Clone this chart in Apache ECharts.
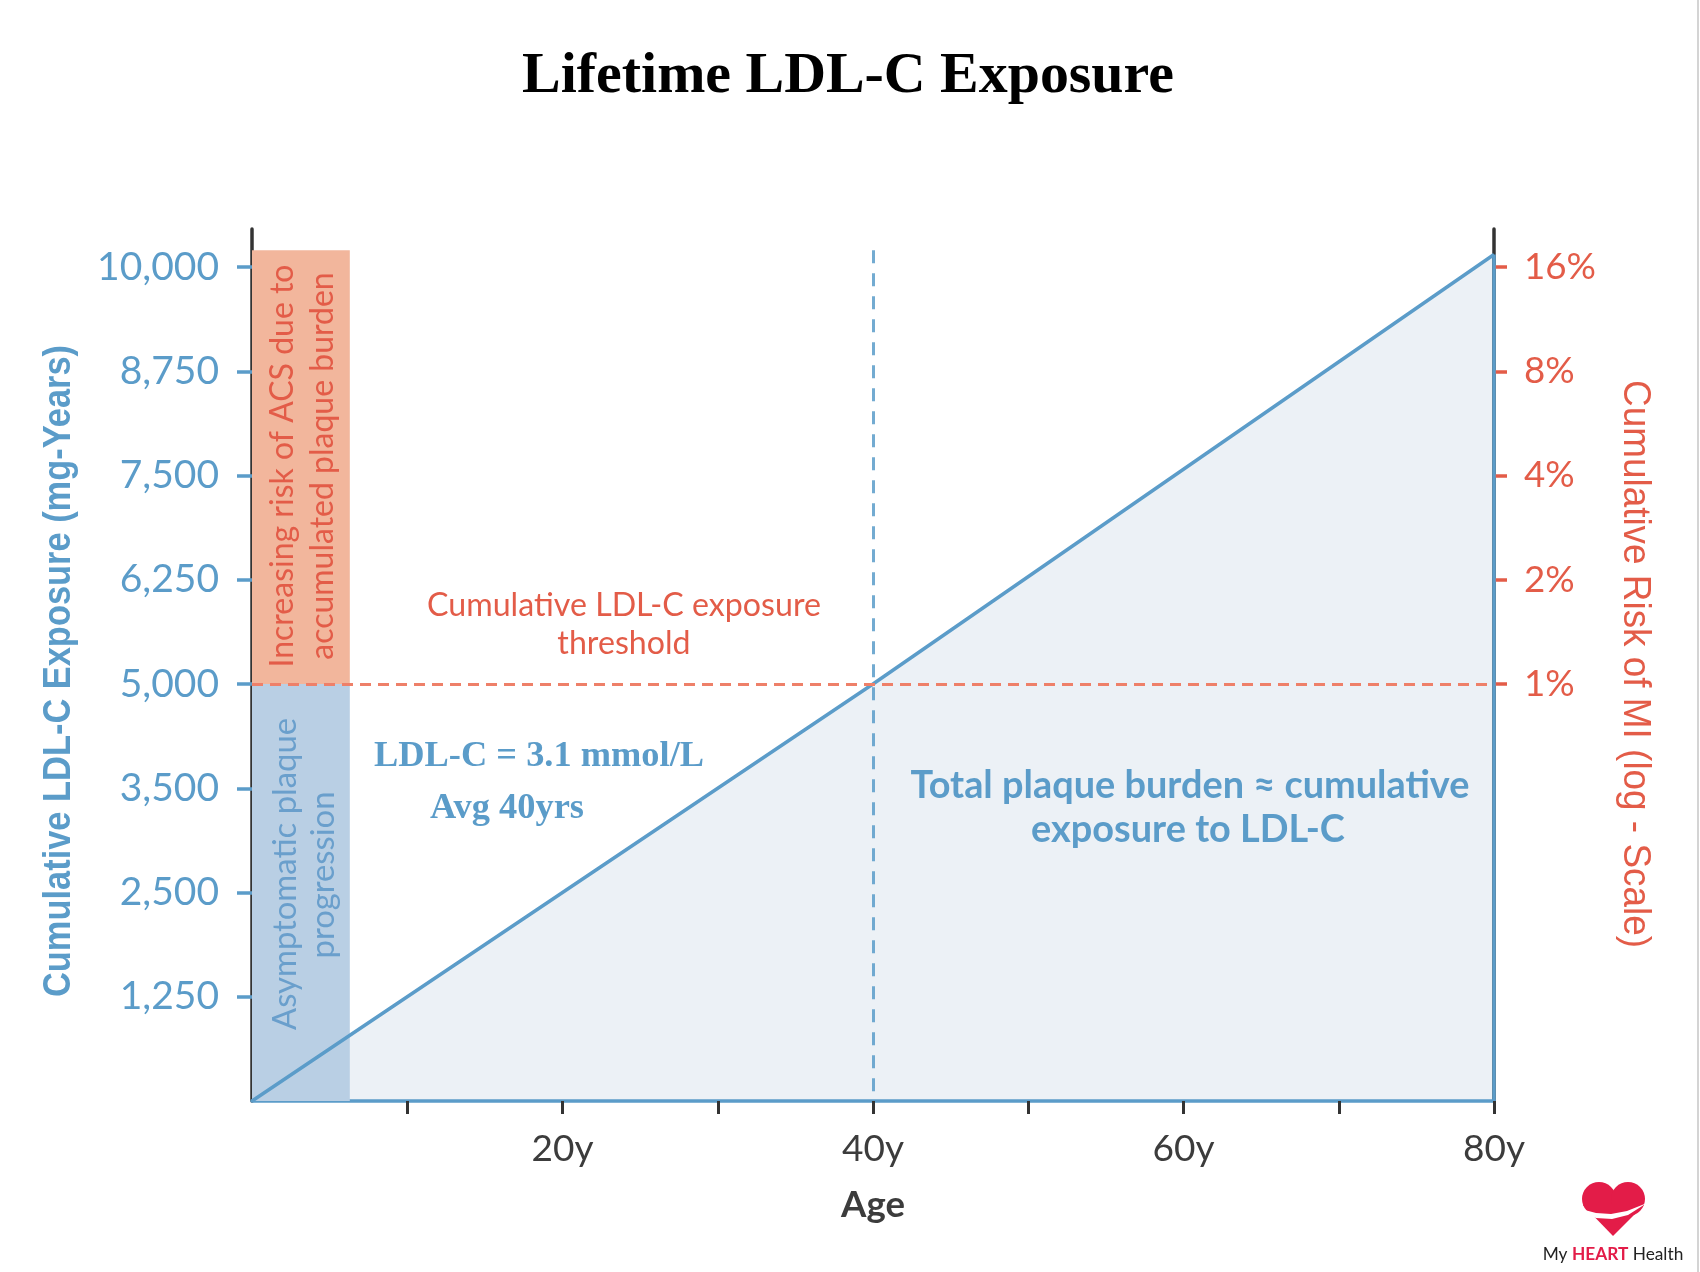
<!DOCTYPE html>
<html>
<head>
<meta charset="utf-8">
<title>Lifetime LDL-C Exposure</title>
<script src="https://cdn.jsdelivr.net/npm/echarts@6/dist/echarts.min.js"></script>
<style>
  html, body { margin: 0; padding: 0; background: #fff; }
  #chart { width: 1700px; height: 1272px; }
</style>
</head>
<body>
<div id="chart"></div>
<script>
// ---- data ----
const ages = [0, 40, 80];
const exposure = [0, 5000, 10150];
const ageTicks = [10, 20, 30, 40, 50, 60, 70, 80];
const ageLabels = [20, 40, 60, 80];
const exposureTicks = [1250, 2500, 3750, 5000, 6250, 7500, 8750, 10000];
const exposureLabels = ['1,250', '2,500', '3,500', '5,000', '6,250', '7,500', '8,750', '10,000'];
const riskPercent = [1, 2, 4, 8, 16];
const threshold = 5000;       // mg-years, = 1% risk
const thresholdAge = 40;
const zoneAge = 6.3;          // width of the shaded band on the left
const zoneTop = 10200;
const axisTop = 10456;
const logStep = 1250;         // one doubling of risk per exposure tick

// ---- styles ----
const blue = '#5b9cc9';
const red = '#e35c48';
const dashRed = '#ee8069';
const pink = '#f2b69c';
const paleBlue = '#b9cfe4';
const fill = '#ecf1f6';
const dark = '#333333';
const heartRed = '#e31c48';
const sans = 'Lato, "Open Sans", sans-serif';
const arial = '"Liberation Sans", Arial, sans-serif';
const serif = '"Liberation Serif", "DejaVu Serif", serif';

// width of a text at a given size
const ctx = document.createElement('canvas').getContext('2d');
function measure(text, family, weight, size) {
  ctx.font = weight + ' ' + size + 'px ' + family;
  return ctx.measureText(text).width;
}
// font size that makes a text come out at a given width
function fit(text, family, weight, width) {
  return Math.round(1000 * width / measure(text, family, weight, 100)) / 10;
}

const pts = ages.map((a, i) => [a, exposure[i]]);
const endAge = ages[ages.length - 1];
const endVal = exposure[exposure.length - 1];

const yLabelSize = fit('10,000', sans, 'normal', 122);
const xLabelSize = fit('20y', sans, 'normal', 62);
const rLabelSize = fit('16%', sans, 'normal', 72);

const chart = echarts.init(document.getElementById('chart'));

// centred text; with a width the glyphs are squeezed along the line to match it
function txt(text, x, y, size, family, weight, color, rotation, width, squeezeFrom) {
  let sx = 1;
  if (width) sx = width / measure(squeezeFrom || text, family, weight, size);
  return {
    type: 'text', x: x, y: y, rotation: rotation || 0, scaleX: sx, silent: true, z: 50,
    style: {
      text: text, fontSize: size, fontFamily: family, fontWeight: weight,
      fill: color, align: 'center', verticalAlign: 'middle'
    }
  };
}

const ldlSize = fit('LDL-C = 3.1 mmol/L', serif, 'bold', 330);
const titleSize = fit('Lifetime LDL-C Exposure', serif, 'bold', 652);
const logoSize = fit('My HEART Health', sans, 'normal', 140);

const thr1 = 'Cumulative LDL-C exposure';
const tot1 = 'Total plaque burden ≈ cumulative';
const inc1 = 'Increasing risk of ACS due to';
const asy1 = 'Asymptomatic plaque';
const up = -Math.PI / 2;

const option = {
  animation: false,
  backgroundColor: '#fff',
  grid: { left: 252, right: 206, top: 229, bottom: 171, containLabel: false },
  xAxis: {
    type: 'value', min: 0, max: endAge,
    axisLine: { show: true, onZero: false, lineStyle: { color: blue, width: 3.5 } },
    axisTick: { show: true, customValues: ageTicks, length: 13, lineStyle: { color: dark, width: 3 } },
    axisLabel: {
      customValues: ageLabels, formatter: v => v + 'y',
      color: '#3c3c3c', fontSize: xLabelSize, fontFamily: sans, margin: 30
    },
    splitLine: { show: false },
    name: 'Age', nameLocation: 'middle', nameGap: 86,
    nameTextStyle: { color: '#3c3c3c', fontFamily: sans, fontWeight: 'bold', fontSize: fit('Age', sans, 'bold', 64) }
  },
  yAxis: [{
    type: 'value', min: 0, max: axisTop, position: 'left',
    axisLine: { show: true, lineStyle: { color: dark, width: 3.5 } },
    axisTick: { show: true, customValues: exposureTicks, length: 15, lineStyle: { color: blue, width: 3.5 } },
    axisLabel: {
      customValues: exposureTicks,
      formatter: v => exposureLabels[exposureTicks.indexOf(v)],
      color: blue, fontSize: yLabelSize, fontFamily: sans, margin: 33
    },
    splitLine: { show: false }
  }, {
    // risk axis in log2 units, one doubling per exposure tick, 1% at the threshold
    type: 'value', position: 'right',
    min: (0 - threshold) / logStep, max: (axisTop - threshold) / logStep,
    axisLine: { show: true, lineStyle: { color: dark, width: 3.5 } },
    axisTick: { show: true, customValues: riskPercent.map(Math.log2), length: 13, lineStyle: { color: red, width: 3.5 } },
    axisLabel: {
      customValues: riskPercent.map(Math.log2),
      formatter: v => Math.round(Math.pow(2, v)) + '%',
      color: red, fontSize: rLabelSize, fontFamily: sans, margin: 30
    },
    splitLine: { show: false }
  }],
  series: [{
    // light fill under the exposure line
    type: 'line', data: pts, symbol: 'none', z: 0, silent: true,
    lineStyle: { width: 0 },
    areaStyle: { color: fill, opacity: 1 }
  }, {
    type: 'line', data: pts, symbol: 'none', z: 3, silent: true,
    lineStyle: { color: blue, width: 3.5 },
    markArea: {
      silent: true,
      data: [
        [{ coord: [0, threshold], itemStyle: { color: pink, opacity: 1 } }, { coord: [zoneAge, zoneTop] }],
        [{ coord: [0, 0], itemStyle: { color: paleBlue, opacity: 1 } }, { coord: [zoneAge, threshold] }]
      ]
    },
    markLine: {
      silent: true, symbol: ['none', 'none'], label: { show: false },
      data: [
        [{ coord: [0, threshold], lineStyle: { color: dashRed, width: 3, type: [11, 7] } }, { coord: [endAge, threshold] }],
        [{ coord: [thresholdAge, zoneTop], lineStyle: { color: blue, width: 3, type: [13, 10], opacity: 0.85 } }, { coord: [thresholdAge, 0] }]
      ]
    }
  }, {
    // right edge of the shaded triangle
    type: 'line', data: [[endAge, endVal], [endAge, 0]], symbol: 'none', z: 3, silent: true,
    lineStyle: { color: blue, width: 3.5 }
  }],
  graphic: [
    txt('Lifetime LDL-C Exposure', 848, 77, titleSize, serif, 'bold', '#000'),
    // axis titles, condensed
    txt('Cumulative LDL-C Exposure (mg-Years)', 59, 671, 39, arial, 'bold', blue, -up, 652),
    txt('Cumulative Risk of MI (log - Scale)', 1635, 664, 39, arial, 'normal', red, up, 568),
    // notes
    txt(thr1, 624, 605, 33, sans, 'normal', red, 0, 394),
    txt('threshold', 624, 643, 33, sans, 'normal', red, 0, 394, thr1),
    txt('LDL-C = 3.1 mmol/L', 539, 757, ldlSize, serif, 'bold', blue),
    txt('Avg 40yrs', 507, 809, ldlSize, serif, 'bold', blue),
    txt(tot1, 1190, 785, 39, sans, 'bold', blue, 0, 559),
    txt('exposure to LDL-C', 1188, 829, 39, sans, 'bold', blue, 0, 559, tot1),
    txt(inc1, 283, 466, 32, sans, 'normal', red, -up, 403),
    txt('accumulated plaque burden', 323, 466, 32, sans, 'normal', red, -up, 403, inc1),
    txt(asy1, 285, 874, 33, sans, 'normal', '#6a9fcc', -up, 312),
    txt('progression', 323, 875, 33, sans, 'normal', '#6a9fcc', -up, 312, asy1),
    // logo: heart from two circles and a triangle, white swoosh across it
    { type: 'circle', silent: true, shape: { cx: 1599, cy: 1199, r: 17 }, style: { fill: heartRed } },
    { type: 'circle', silent: true, shape: { cx: 1628, cy: 1199, r: 17 }, style: { fill: heartRed } },
    {
      type: 'polygon', silent: true,
      shape: { points: [[1583, 1205], [1644, 1205], [1613, 1236]] },
      style: { fill: heartRed }
    },
    {
      type: 'polygon', silent: true,
      shape: { points: [[1581, 1212], [1596, 1218], [1612, 1219], [1628, 1215], [1647, 1203], [1627, 1211], [1611, 1214], [1596, 1213], [1581, 1209]] },
      style: { fill: '#fff' }
    },
    {
      type: 'text', x: 1613, y: 1254, silent: true,
      style: {
        text: '{a|My }{b|HEART}{a| Health}', align: 'center', verticalAlign: 'middle',
        rich: {
          a: { fontSize: logoSize, fontFamily: sans, fill: '#222' },
          b: { fontSize: logoSize, fontFamily: sans, fontWeight: 'bold', fill: heartRed }
        }
      }
    },
    {
      type: 'line', silent: true,
      shape: { x1: 1698, y1: 0, x2: 1698, y2: 1272 },
      style: { stroke: '#d4d4d4', lineWidth: 2 }
    }
  ]
};

chart.setOption(option);
</script>
</body>
</html>
